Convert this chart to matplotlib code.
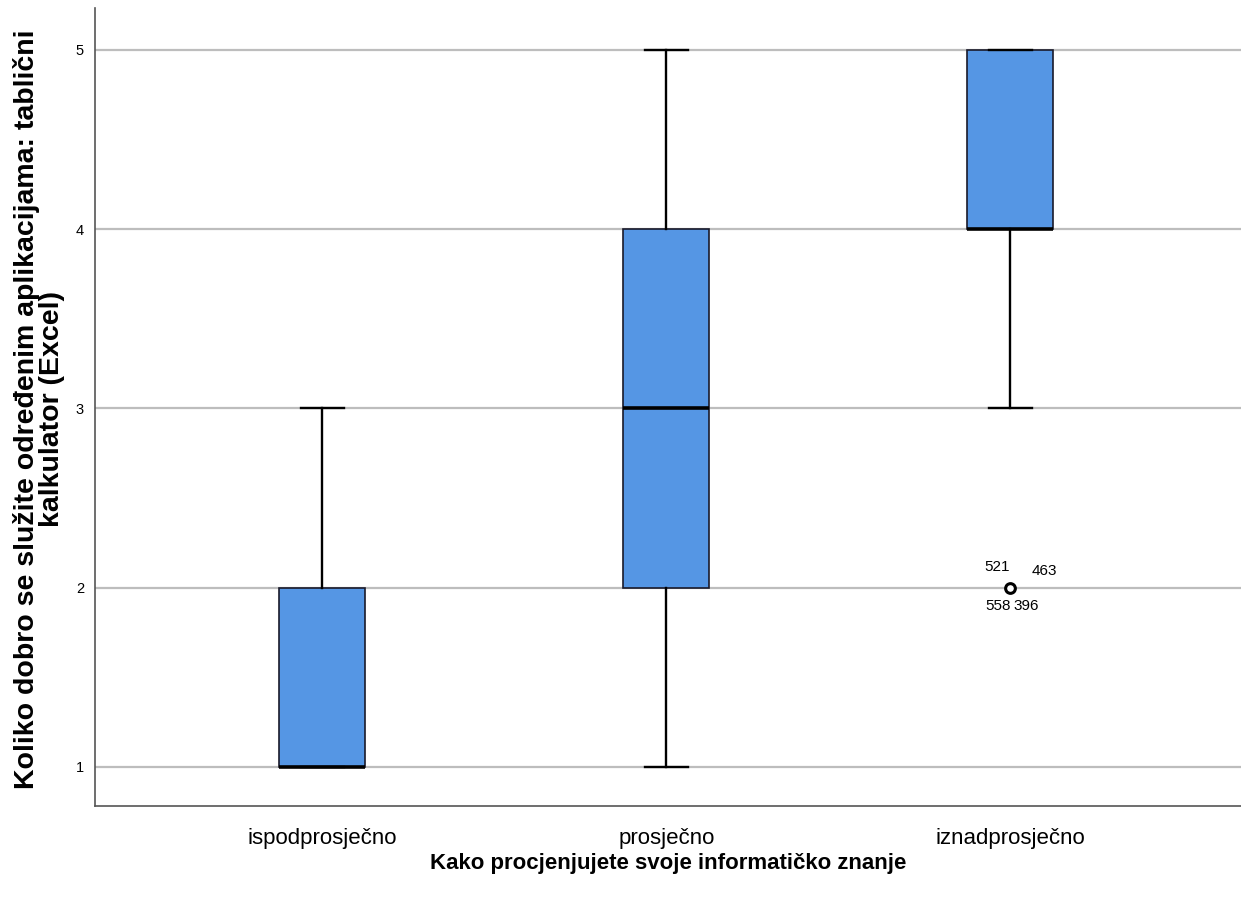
import matplotlib
matplotlib.use("Agg")
import matplotlib.pyplot as plt

categories = ["ispodprosječno", "prosječno", "iznadprosječno"]
whisker_low = [1, 1, 3]
q1 = [1, 2, 4]
median = [1, 3, 4]
q3 = [2, 4, 5]
whisker_high = [3, 5, 5]
outliers = [[], [], [2]]
outlier_ids = ["521", "463", "558", "396"]
yticks = [1, 2, 3, 4, 5]

fig = plt.figure(figsize=(12.41, 9.11), dpi=100)
ax = fig.add_axes([95/1241, 1-806/911, 1-95/1241, (806-8)/911])

stats = []
for i in range(3):
    stats.append(dict(med=median[i], q1=q1[i], q3=q3[i], whislo=whisker_low[i],
                      whishi=whisker_high[i], fliers=outliers[i]))

ax.bxp(stats, positions=[1, 2, 3], widths=0.25, patch_artist=True, showfliers=True,
       boxprops=dict(facecolor="#5596E4", edgecolor="#1a1a2a", linewidth=1.2),
       medianprops=dict(color="black", linewidth=2.6, solid_capstyle="butt"),
       whiskerprops=dict(color="black", linewidth=1.7),
       capprops=dict(color="black", linewidth=1.7),
       capwidths=0.125,
       flierprops=dict(marker="o", markerfacecolor="white", markeredgecolor="black",
                       markersize=7, markeredgewidth=2.2))

for y in yticks:
    ax.axhline(y, color="#BDBDBD", linewidth=1.6, zorder=0)

# outlier labels
for i, fl in enumerate(outliers):
    for v in fl:
        x = i + 1
        offs = [(-0.038, 0.115), (0.1, 0.092), (-0.035, -0.1), (0.045, -0.1)]
        for lab, (dx, dy) in zip(outlier_ids, offs):
            ax.text(x + dx, v + dy, lab, ha="center", va="center", fontsize=11,
                    family="Liberation Sans")

ax.set_xlim(0.34, 3.67)
ax.set_ylim(0.782, 5.234)
ax.set_yticks(yticks)
ax.set_yticklabels([str(t) for t in yticks], family="Liberation Sans", fontsize=10.5)
ax.set_xticks([1, 2, 3])
ax.set_xticklabels(categories, family="Liberation Sans", fontsize=16)
ax.tick_params(axis="both", length=0)
ax.tick_params(axis="y", pad=8)
ax.tick_params(axis="x", pad=16)

for s in ["top", "right"]:
    ax.spines[s].set_visible(False)
for s in ["left", "bottom"]:
    ax.spines[s].set_color("#555555")
    ax.spines[s].set_linewidth(1.2)

ax.set_xlabel("Kako procjenjujete svoje informatičko znanje", family="Liberation Sans",
              fontsize=16, fontweight="bold", labelpad=3)
ax.set_ylabel("Koliko dobro se služite određenim aplikacijama: tablični\nkalkulator (Excel)",
              family="Liberation Sans", fontsize=20.5, fontweight="bold",
              linespacing=0.95)
ax.yaxis.set_label_coords(-0.026, 0.497)

fig.savefig("out.png", dpi=100)
